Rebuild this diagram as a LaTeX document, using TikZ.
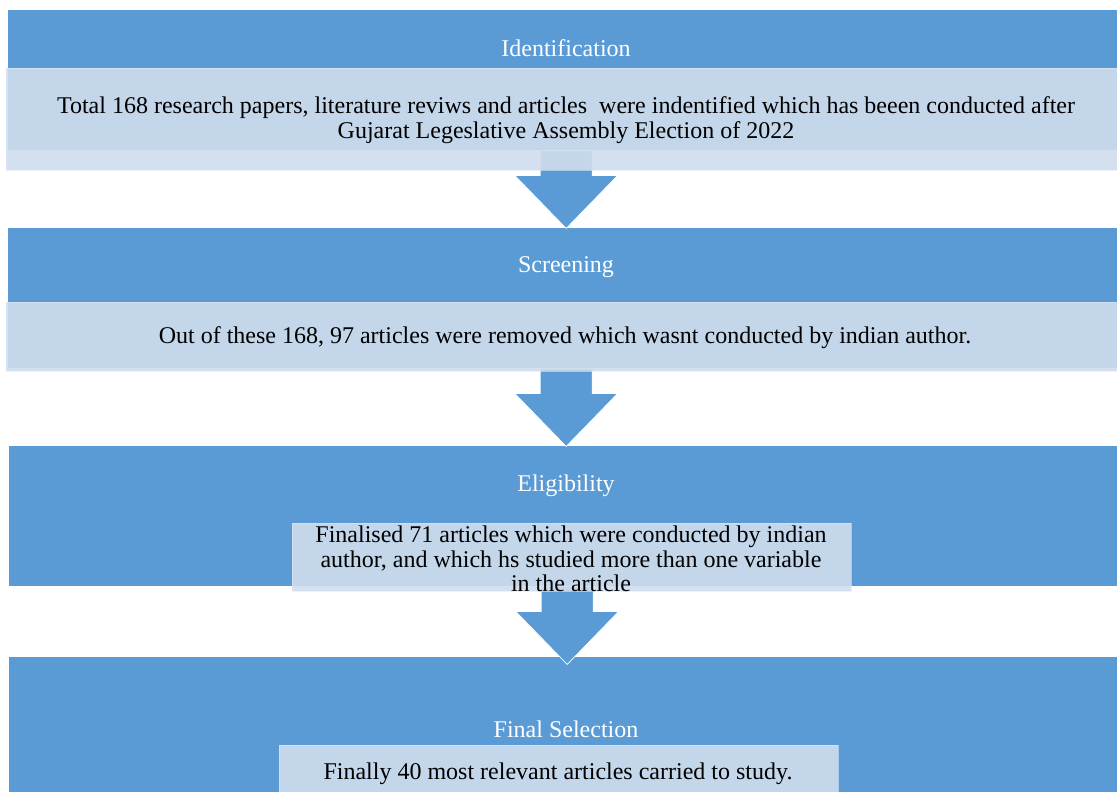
\documentclass[tikz,border=0pt]{standalone}
\usepackage{fontspec}
\setmainfont{Liberation Serif}
\usepackage{xcolor}
\usepackage{tikz}
\usetikzlibrary{positioning, calc}
\definecolor{flowblue}{RGB}{91,155,213}
\definecolor{boxtint}{RGB}{207,221,237}
\definecolor{boxedge}{RGB}{222,232,244}
\tikzset{
  stagebar/.style={rectangle, fill=flowblue, draw=none, inner sep=0pt,
    minimum width=1116pt, anchor=north west},
  stagetitle/.style={font=\fontsize{24}{28}\selectfont, text=white, inner sep=0pt},
  infobox/.style={rectangle, fill=boxtint, fill opacity=0.9, draw=boxedge,
    draw opacity=0.6, line width=0.8pt, inner sep=0pt, anchor=north west},
  infotext/.style={font=\fontsize{24}{24.5}\selectfont, text=black, align=center,
    inner sep=0pt},
  flowarrow/.style={fill=flowblue, draw=white, line width=0.7pt, line join=miter}
}
\begin{document}
\begin{tikzpicture}[x=1pt, y=1pt]
  \useasboundingbox (0,0) rectangle (1117,-792);
  \clip (0,0) rectangle (1117,-792);

  % stage bars
  \node[stagebar, minimum height=140pt] (idbar) at (8,-10) {};
  \node[stagebar, minimum height=140pt] (scrbar) at (8,-228) {};
  \node[stagebar, minimum height=140pt] (elibar) at (9,-446) {};
  \node[stagebar, minimum height=150pt] (selbar) at (9,-657) {};

  % arrows between stages
  \foreach \src in {idbar, scrbar, elibar}
    \filldraw[flowarrow] ($(\src.south)+(-26,0)$) -- ++(52,0) -- ++(0,-25)
      -- ++(25.5,0) -- ++(-51.5,-53) -- ++(-51.5,53) -- ++(25.5,0) -- cycle;

  % light boxes
  \node[infobox, minimum width=1120pt, minimum height=102pt] (idinfo) at (6,-68) {};
  \node[infobox, minimum width=1120pt, minimum height=69pt] (scrinfo) at (6,-302) {};
  \node[infobox, minimum width=559pt, minimum height=68pt] (eliinfo) at (292,-523) {};
  \node[infobox, minimum width=559pt, minimum height=60pt] (selinfo) at (279,-745) {};

  % titles
  \node[stagetitle] (idtitle) at (566,-48) {Identification};
  \node[stagetitle] (scrtitle) at (566,-267) {Screening};
  \node[stagetitle] (elititle) at (566,-486) {Eligibility};
  \node[stagetitle] (seltitle) at (566,-729) {Final Selection};

  % texts
  \node[infotext] (idtext) at (566,-120) {Total 168 research papers, literature reviws and articles\ \ were indentified which has beeen conducted after\\Gujarat Legeslative Assembly Election of 2022};
  \node[infotext] (scrtext) at (565,-338) {Out of these 168, 97 articles were removed which wasnt conducted by indian author.};
  \node[infotext] (elitext) at (571,-559) {Finalised 71 articles which were conducted by indian\\author, and which hs studied more than one variable\\in the article};
  \node[infotext] (seltext) at (558,-774) {Finally 40 most relevant articles carried to study.};
\end{tikzpicture}
\end{document}
